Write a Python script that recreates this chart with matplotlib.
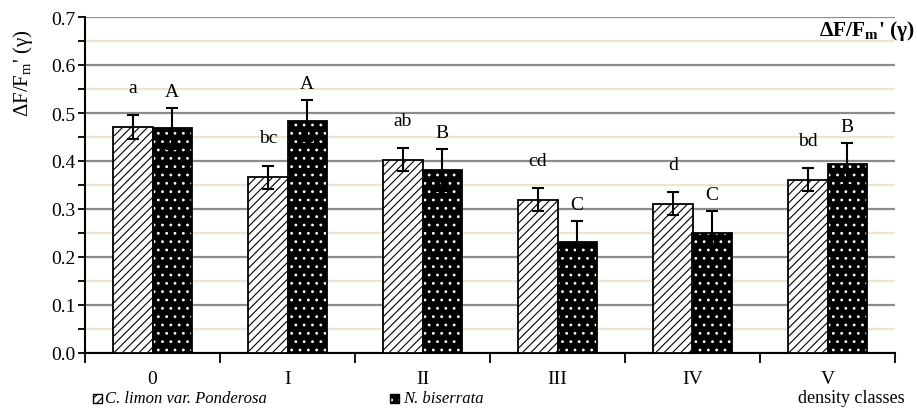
import matplotlib
matplotlib.use("Agg")
import matplotlib.pyplot as plt
import matplotlib.patches as patches
import numpy as np

plt.rcParams['font.family'] = ['Liberation Serif', 'DejaVu Serif']
plt.rcParams['hatch.linewidth'] = 0.8

# datos
clases = ['0', 'I', 'II', 'III', 'IV', 'V']
c_limon = [0.471, 0.366, 0.403, 0.319, 0.311, 0.361]
c_limon_err = [0.025, 0.024, 0.024, 0.024, 0.024, 0.024]
n_biserrata = [0.468, 0.484, 0.381, 0.232, 0.251, 0.394]
n_biserrata_err = [0.042, 0.043, 0.043, 0.043, 0.044, 0.043]
letras_c = ['a', 'bc', 'ab', 'cd', 'd', 'bd']
letras_n = ['A', 'A', 'B', 'C', 'C', 'B']
series = ['C. limon var. Ponderosa', 'N. biserrata']

W, H = 917, 414
fig = plt.figure(figsize=(W / 100, H / 100), dpi=100)
ax = fig.add_axes([85 / W, 1 - 354 / H, 810 / W, 336 / H])

x = np.arange(len(clases))
w = 0.29

# barras C. limon (rayadas)
ax.bar(x - w / 2, c_limon, w, facecolor='white', edgecolor='black',
       hatch='////', linewidth=1.3, zorder=3)
ax.errorbar(x - w / 2, c_limon, yerr=c_limon_err, fmt='none', ecolor='black',
            elinewidth=1.5, capsize=4, capthick=1.5, zorder=4)

# barras N. biserrata (negras con puntos)
ax.bar(x + w / 2, n_biserrata, w, facecolor='black', edgecolor='white',
       hatch='..', linewidth=0, zorder=3)
ax.bar(x + w / 2, n_biserrata, w, facecolor='none', edgecolor='black',
       linewidth=1.3, zorder=3)
ax.errorbar(x + w / 2, n_biserrata, yerr=n_biserrata_err, fmt='none', ecolor='black',
            elinewidth=1.5, capsize=4, capthick=1.5, zorder=4)

# letras de significancia
for i in range(len(clases)):
    ax.text(x[i] - w / 2, c_limon[i] + c_limon_err[i] + 0.058, letras_c[i],
            ha='center', va='center', fontsize=14, zorder=5)
    ax.text(x[i] + w / 2, n_biserrata[i] + n_biserrata_err[i] + 0.035, letras_n[i],
            ha='center', va='center', fontsize=14, zorder=5)

# ejes
ax.set_xlim(-0.5, len(clases) - 0.5)
ax.set_ylim(0, 0.7)
ax.set_yticks(np.arange(0, 0.71, 0.1))
ax.set_yticklabels([f'{v:.1f}' for v in np.arange(0, 0.71, 0.1)], fontsize=14)
ax.set_yticks(np.arange(0.05, 0.7, 0.1), minor=True)
ax.set_xticks(np.arange(-0.5, len(clases), 1))
ax.set_xticklabels([])
ax.set_xticks(x, minor=True)
ax.set_xticklabels(clases, minor=True, fontsize=14)
ax.tick_params(axis='x', which='major', direction='out', length=7, width=1.3)
ax.tick_params(axis='x', which='minor', length=0, pad=12)
ax.tick_params(axis='y', which='both', direction='out', length=5, width=1.3, pad=2)

ax.set_axisbelow(True)
ax.grid(axis='y', which='major', color='#8c8c8c', linewidth=1.6)
ax.grid(axis='y', which='minor', color='#f2e4c6', linewidth=1.6)
for s in ['top', 'right']:
    ax.spines[s].set_visible(False)
for s in ['left', 'bottom']:
    ax.spines[s].set_linewidth(1.5)

fig.text(23 / W, 1 - 73 / H, "ΔF/F$_\\mathregular{m}$' (γ)", rotation=90,
         ha='center', va='center', fontsize=15)
fig.text(0.998, 1 - 31 / H, "ΔF/F$_\\mathregular{m}$' (γ)", ha='right',
         va='center', fontsize=15.5, fontweight='bold')

# leyenda dibujada a mano
ly = 1 - 399 / H
s = 9
fig.add_artist(patches.Rectangle((93 / W, ly - s / 2 / H), s / W, s / H,
                                 transform=fig.transFigure, facecolor='white',
                                 edgecolor='black', hatch='////', linewidth=1))
fig.text(105 / W, ly, series[0], ha='left', va='center', fontsize=12, style='italic')
fig.add_artist(patches.Rectangle((390 / W, ly - s / 2 / H), s / W, s / H,
                                 transform=fig.transFigure, facecolor='black',
                                 edgecolor='white', hatch='..', linewidth=0))
fig.add_artist(patches.Rectangle((390 / W, ly - s / 2 / H), s / W, s / H,
                                 transform=fig.transFigure, facecolor='none',
                                 edgecolor='black', linewidth=1))
fig.text(403 / W, ly, series[1], ha='left', va='center', fontsize=12, style='italic')
fig.text(905 / W, ly, 'density classes', ha='right', va='center', fontsize=13)

fig.savefig('out.png', dpi=100)
